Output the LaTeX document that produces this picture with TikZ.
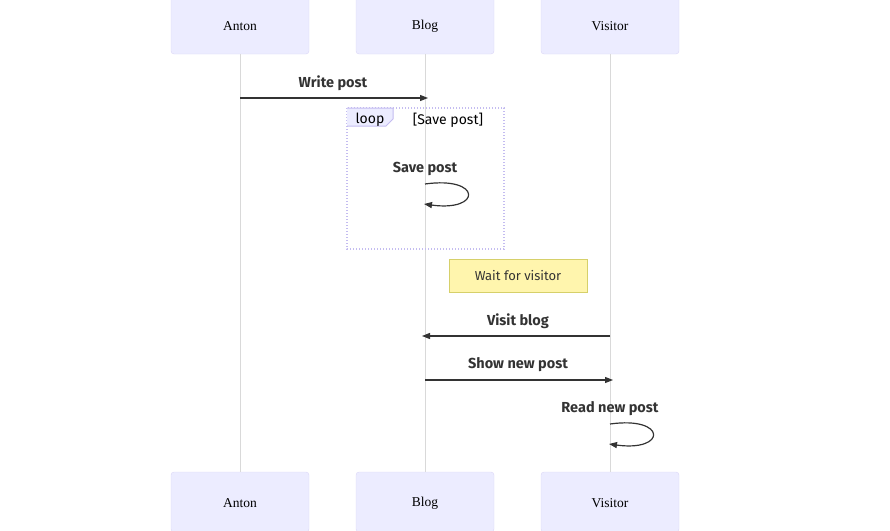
\documentclass[tikz,border=0pt]{standalone}
\usepackage{fontspec}
\setmainfont{Liberation Serif}
\newfontfamily\msgfont{Fira Sans}
\usetikzlibrary{arrows.meta}
\definecolor{actfill}{HTML}{ECECFF}
\definecolor{actline}{HTML}{DCD6F7}
\definecolor{lifeline}{HTML}{D9D9D9}
\definecolor{ink}{HTML}{333333}
\definecolor{loopline}{HTML}{C4BCF0}
\definecolor{notefill}{HTML}{FFF5AD}
\definecolor{noteline}{HTML}{D6D06A}
\begin{document}
\begin{tikzpicture}[x=1pt,y=-1pt,
  actor/.style={draw=actline,fill=actfill,rounded corners=3pt,minimum width=138pt,minimum height=60pt,inner sep=0pt,font=\fontsize{13.5}{15}\selectfont},
  msglabel/.style={font=\msgfont\bfseries\fontsize{14.5}{16}\selectfont,text=ink,inner sep=0pt},
  msg/.style={draw=ink,line width=1.2pt,-{Triangle[length=8pt,width=6pt]}},
  life/.style={draw=lifeline,line width=1pt},
  loopbox/.style={draw=loopline,line width=1.1pt,dash pattern=on 1.2pt off 1.8pt},
  notebox/.style={draw=noteline,fill=notefill,minimum width=138pt,minimum height=33pt,inner sep=0pt,font=\msgfont\fontsize{13}{14}\selectfont,text=ink}
]
\useasboundingbox (0,0) rectangle (890,530);
\clip (0,0) rectangle (890,530);
% actors top
\node[actor] (at) at (240,24) {};
\node[actor] (bt) at (425,24) {};
\node[actor] (vt) at (610,24) {};
\node[inner sep=0pt,font=\fontsize{13.5}{15}\selectfont] (att) at (240,26) {Anton};
\node[inner sep=0pt,font=\fontsize{13.5}{15}\selectfont] (btt) at (425,26) {Blog};
\node[inner sep=0pt,font=\fontsize{13.5}{15}\selectfont] (vtt) at (610,26) {Visitor};
% actors bottom
\node[actor] (ab) at (240,502) {};
\node[actor] (bb) at (425,502) {};
\node[actor] (vb) at (610,502) {};
\node[inner sep=0pt,font=\fontsize{13.5}{15}\selectfont] (abt) at (240,503) {Anton};
\node[inner sep=0pt,font=\fontsize{13.5}{15}\selectfont] (bbt) at (425,503) {Blog};
\node[inner sep=0pt,font=\fontsize{13.5}{15}\selectfont] (vbt) at (610,503) {Visitor};
% lifelines
\draw[life] (at.south) -- (ab.north);
\draw[life] (bt.south) -- (bb.north);
\draw[life] (vt.south) -- (vb.north);
% loop box
\coordinate (lp1) at (347,108);
\coordinate (lp2) at (504,249);
\draw[loopbox] (lp1) rectangle (lp2);
\fill[actfill] (347,108) -- (393,108) -- (393,119) -- (386,126) -- (347,126) -- cycle;
\draw[loopline,line width=1pt] (347,108) -- (393,108) -- (393,119) -- (386,126) -- (347,126);
\node[font=\msgfont\fontsize{14}{15}\selectfont,text=black,inner sep=0pt] (looplbl) at (370,119.5) {loop};
\node[font=\msgfont\fontsize{14}{15}\selectfont,text=black,inner sep=0pt] (loopcond) at (448,120.5) {[Save post]};
% Write post
\coordinate (w1) at (240,98);
\coordinate (w2) at (428,98);
\draw[msg] (w1) -- (w2);
\node[msglabel] (wl) at (333,83) {Write post};
% Save post self loop
\node[msglabel] (sl) at (425,169) {Save post};
\coordinate (s1) at (425,184);
\coordinate (s2) at (424,204);
\draw[ink,line width=1.2pt,-{Triangle[length=8pt,width=6pt]}] (s1) .. controls (482,176) and (482,212) .. (s2);
% note
\node[notebox] (note) at (518,275.5) {\raisebox{-1pt}{Wait for visitor}};
% Visit blog
\coordinate (v1) at (610,336);
\coordinate (v2) at (422,336);
\draw[msg] (v1) -- (v2);
\node[msglabel] (vl) at (518,321) {Visit blog};
% Show new post
\coordinate (n1) at (425,380);
\coordinate (n2) at (613,380);
\draw[msg] (n1) -- (n2);
\node[msglabel] (nl) at (518,365) {Show new post};
% Read new post
\node[msglabel] (rl) at (610,409) {Read new post};
\coordinate (r1) at (610,424);
\coordinate (r2) at (609,444);
\draw[ink,line width=1.2pt,-{Triangle[length=8pt,width=6pt]}] (r1) .. controls (667,416) and (667,452) .. (r2);
\end{tikzpicture}
\end{document}
